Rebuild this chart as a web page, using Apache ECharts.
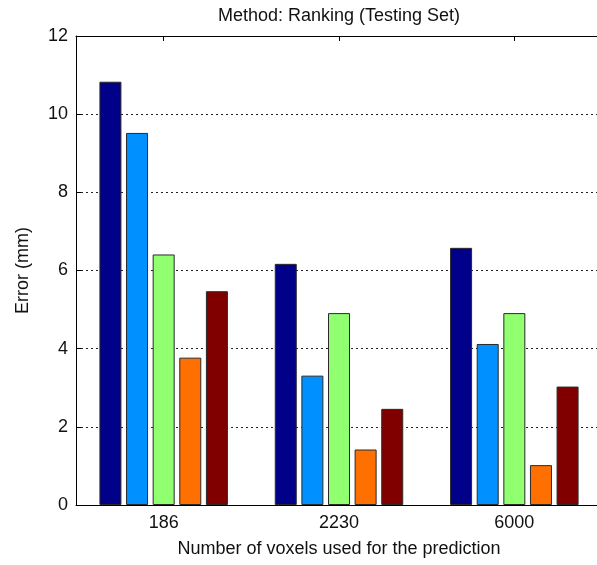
<!DOCTYPE html>
<html>
<head>
<meta charset="utf-8">
<script src="https://cdn.jsdelivr.net/npm/echarts@6/dist/echarts.min.js"></script>
<style>
  html, body { margin: 0; padding: 0; background: #fff; }
  #chart { width: 597px; height: 565px; }
</style>
</head>
<body>
<div id="chart"></div>
<script>
// voxel counts on the x axis
const categories = ['186', '2230', '6000']
// five methods, one bar each per category
const series1 = [10.83, 6.17, 6.58]
const series2 = [9.52, 3.31, 4.12]
const series3 = [6.41, 4.91, 4.91]
const series4 = [3.77, 1.42, 1.02]
const series5 = [5.47, 2.46, 3.03]
const yTicks = [0, 2, 4, 6, 8, 10, 12]

const colors = ['#000088', '#0090ff', '#90ff70', '#ff7000', '#800000']
const font = 'Liberation Sans, Arial, sans-serif'

const chart = echarts.init(document.getElementById('chart'))

const makeBar = (data, i) => ({
  type: 'bar',
  data: data,
  barWidth: 22,
  barGap: '21%',
  itemStyle: {
    color: colors[i],
    borderColor: '#2a2a2a',
    borderWidth: 1
  }
})

const option = {
  animation: false,
  title: {
    text: 'Method: Ranking (Testing Set)',
    left: 334,
    top: 2,
    textAlign: 'center',
    textStyle: { fontFamily: font, fontSize: 18, fontWeight: 'normal', color: '#111' }
  },
  grid: {
    left: 76,
    top: 36,
    right: -5,
    bottom: 60,
    containLabel: false,
    outerBoundsMode: 'none'
  },
  xAxis: [
    {
      type: 'category',
      data: categories,
      position: 'bottom',
      name: 'Number of voxels used for the prediction',
      nameLocation: 'middle',
      nameGap: 35,
      nameTextStyle: { fontFamily: font, fontSize: 18, color: '#111' },
      axisLine: { lineStyle: { color: '#000', width: 1 } },
      axisTick: { show: true, inside: true, alignWithLabel: true, length: 5, lineStyle: { color: '#000' } },
      axisLabel: { fontFamily: font, fontSize: 18, color: '#111', margin: 9 },
      splitLine: { show: false }
    },
    {
      type: 'category',
      data: categories,
      position: 'top',
      axisLine: { lineStyle: { color: '#000', width: 1 } },
      axisTick: { show: true, inside: true, alignWithLabel: true, length: 5, lineStyle: { color: '#000' } },
      axisLabel: { show: false },
      splitLine: { show: false }
    }
  ],
  yAxis: {
    type: 'value',
    min: yTicks[0],
    max: yTicks[yTicks.length - 1],
    interval: 2,
    name: 'Error (mm)',
    nameLocation: 'middle',
    nameGap: 44,
    nameTextStyle: { fontFamily: font, fontSize: 18, color: '#111' },
    axisLine: { show: true, lineStyle: { color: '#000', width: 1 } },
    axisTick: { show: true, inside: true, length: 5, lineStyle: { color: '#000' } },
    axisLabel: { fontFamily: font, fontSize: 18, color: '#111', margin: 8 },
    splitLine: { show: true, lineStyle: { color: '#222', type: [2, 3], width: 1 } }
  },
  series: [series1, series2, series3, series4, series5].map(makeBar)
}

chart.setOption(option)
</script>
</body>
</html>
